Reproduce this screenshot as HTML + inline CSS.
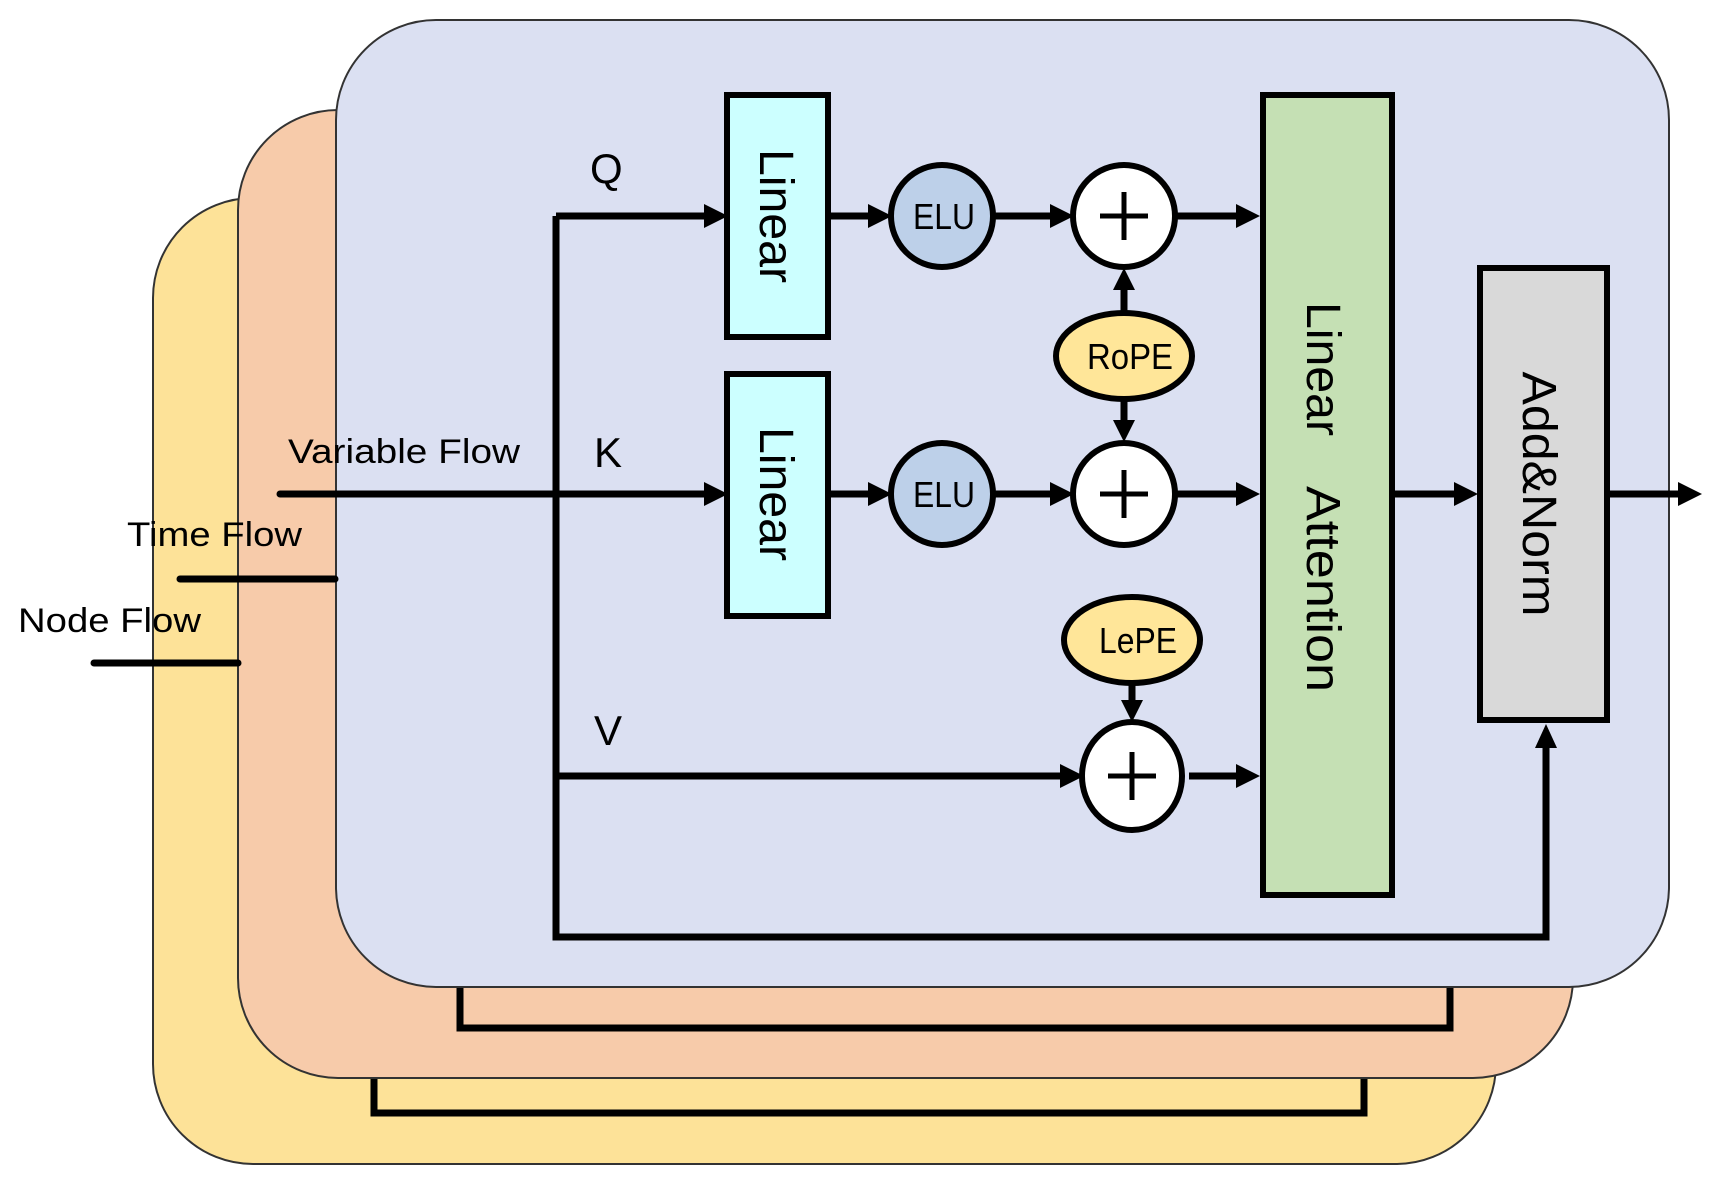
<!DOCTYPE html>
<html><head><meta charset="utf-8"><style>
html,body{margin:0;padding:0;background:#fff;}
svg{display:block;}
text{font-family:"Liberation Sans","DejaVu Sans",sans-serif;fill:#000;}
</style></head><body>
<svg width="1717" height="1187" viewBox="0 0 1717 1187" xmlns="http://www.w3.org/2000/svg">
<rect x="153" y="198" width="1343" height="966" rx="100" fill="#fde298" stroke="#333" stroke-width="2"/>
<polyline points="374,1060 374,1113 1364,1113 1364,1060" fill="none" stroke="#000" stroke-width="7"/>
<rect x="238" y="110" width="1335" height="968" rx="100" fill="#f7cbaa" stroke="#333" stroke-width="2"/>
<polyline points="460,970 460,1028 1450,1028 1450,970" fill="none" stroke="#000" stroke-width="7"/>
<rect x="336" y="20" width="1333" height="967" rx="100" fill="#dbe0f2" stroke="#333" stroke-width="2"/>

<g stroke="#000" stroke-width="7" fill="none">
<polyline points="556,216 556,937 1546,937 1546,740"/>
<line x1="556" y1="216" x2="712" y2="216"/>
<line x1="280" y1="494" x2="712" y2="494" stroke-linecap="round"/>
<line x1="556" y1="776" x2="1068" y2="776"/>
<line x1="180" y1="579" x2="335" y2="579" stroke-linecap="round"/>
<line x1="94" y1="663" x2="238" y2="663" stroke-linecap="round"/>
<line x1="828" y1="216" x2="876" y2="216"/>
<line x1="828" y1="494" x2="876" y2="494"/>
<line x1="994" y1="216" x2="1058" y2="216"/>
<line x1="994" y1="494" x2="1058" y2="494"/>
<line x1="1176" y1="216" x2="1244" y2="216"/>
<line x1="1176" y1="494" x2="1244" y2="494"/>
<line x1="1189" y1="776" x2="1244" y2="776"/>
<line x1="1392" y1="494" x2="1462" y2="494"/>
<line x1="1607" y1="494" x2="1680" y2="494"/>
<line x1="1124" y1="313" x2="1124" y2="282"/>
<line x1="1124" y1="399" x2="1124" y2="420"/>
<line x1="1132" y1="683" x2="1132" y2="703"/>
</g>
<g fill="#000">
<polygon points="728,216 704,204 704,228"/>
<polygon points="728,494 704,482 704,506"/>
<polygon points="892,216 868,204 868,228"/>
<polygon points="892,494 868,482 868,506"/>
<polygon points="1074,216 1050,204 1050,228"/>
<polygon points="1074,494 1050,482 1050,506"/>
<polygon points="1084,776 1060,764 1060,788"/>
<polygon points="1260,216 1236,204 1236,228"/>
<polygon points="1260,494 1236,482 1236,506"/>
<polygon points="1260,776 1236,764 1236,788"/>
<polygon points="1478,494 1454,482 1454,506"/>
<polygon points="1702,494 1678,482 1678,506"/>
<polygon points="1546,724 1535,748 1557,748"/>
<polygon points="1124,268 1113,290 1135,290"/>
<polygon points="1124,442 1113,420 1135,420"/>
<polygon points="1132,722 1121,700 1143,700"/>
</g>

<g stroke="#000" stroke-width="6">
<rect x="727" y="95" width="101" height="242" fill="#ccffff"/>
<rect x="727" y="374" width="101" height="242" fill="#ccffff"/>
<rect x="1263" y="95" width="129" height="800" fill="#c5e0b4"/>
<rect x="1480" y="268" width="127" height="452" fill="#d9d9d9"/>
<circle cx="942" cy="216" r="51" fill="#bdd0e9"/>
<circle cx="942" cy="494" r="51" fill="#bdd0e9"/>
<circle cx="1124" cy="216" r="51" fill="#fff"/>
<circle cx="1124" cy="494" r="51" fill="#fff"/>
<ellipse cx="1132" cy="776" rx="50" ry="54" fill="#fff"/>
<ellipse cx="1124" cy="356" rx="68" ry="43" fill="#ffe699"/>
<ellipse cx="1132" cy="640" rx="68" ry="43" fill="#ffe699"/>
</g>
<g stroke="#000" stroke-width="5">
<line x1="1100" y1="216" x2="1148" y2="216"/><line x1="1124" y1="192" x2="1124" y2="240"/>
<line x1="1100" y1="494" x2="1148" y2="494"/><line x1="1124" y1="470" x2="1124" y2="518"/>
<line x1="1108" y1="776" x2="1156" y2="776"/><line x1="1132" y1="752" x2="1132" y2="800"/>
</g>

<g font-size="48" text-anchor="middle">
<text transform="translate(760,216) rotate(90)" textLength="134" lengthAdjust="spacingAndGlyphs">Linear</text>
<text transform="translate(760,494) rotate(90)" textLength="134" lengthAdjust="spacingAndGlyphs">Linear</text>
<text transform="translate(1539,494) rotate(90)" dy="16" textLength="245" lengthAdjust="spacingAndGlyphs">Add&amp;Norm</text>
<text transform="translate(1307,369) rotate(90)" textLength="134" lengthAdjust="spacingAndGlyphs">Linear</text>
<text transform="translate(1307,589) rotate(90)" textLength="206" lengthAdjust="spacingAndGlyphs">Attention</text>
</g>
<g font-size="36" text-anchor="middle">
<text x="944" y="229" textLength="62" lengthAdjust="spacingAndGlyphs">ELU</text>
<text x="944" y="507" textLength="62" lengthAdjust="spacingAndGlyphs">ELU</text>
<text x="1130" y="369" textLength="86" lengthAdjust="spacingAndGlyphs">RoPE</text>
<text x="1138" y="653" textLength="78" lengthAdjust="spacingAndGlyphs">LePE</text>
</g>
<g font-size="42">
<text x="590" y="183">Q</text>
<text x="594" y="467">K</text>
<text x="594" y="745">V</text>
</g>
<g font-size="34">
<text x="288" y="463" textLength="232" lengthAdjust="spacingAndGlyphs">Variable Flow</text>
<text x="127" y="546" textLength="175" lengthAdjust="spacingAndGlyphs">Time Flow</text>
<text x="18" y="632" textLength="183" lengthAdjust="spacingAndGlyphs">Node Flow</text>
</g>
</svg>
</body></html>
